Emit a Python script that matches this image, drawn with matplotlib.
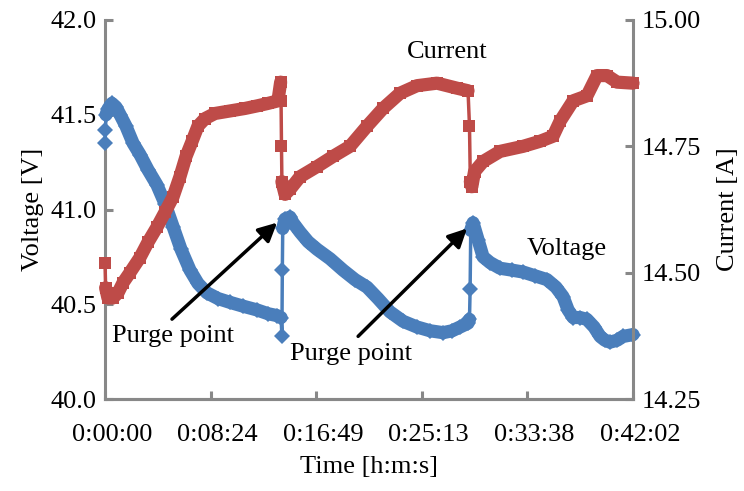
import matplotlib
matplotlib.use("Agg")
import matplotlib.pyplot as plt
import matplotlib.transforms as mtransforms
from matplotlib.ticker import FixedLocator, FuncFormatter

# ---- data (time in seconds) ----
volt_t = [0, 2, 5, 14, 33, 53, 72, 100, 134, 167, 205, 248, 287, 325, 363, 406, 444,
          487, 540, 597, 659, 726, 779, 822, 841, 845, 847, 849, 860, 884,
          898, 932, 970, 1013, 1075, 1137, 1194, 1252, 1304, 1361, 1424, 1490, 1553,
          1615, 1658, 1696, 1734, 1741, 1744, 1747, 1758,
          1782, 1806, 1839, 1887, 1944, 1997, 2054, 2111, 2154, 2188, 2212, 2236,
          2269, 2302, 2336, 2365, 2388, 2412, 2446, 2474, 2522]
volt_v = [41.35, 41.42, 41.50, 41.53, 41.56, 41.54, 41.50, 41.44, 41.35, 41.29, 41.21,
          41.13, 41.03, 40.91, 40.79, 40.68, 40.61, 40.56, 40.53, 40.51, 40.49, 40.47,
          40.45, 40.44, 40.43, 40.33, 40.68, 40.90, 40.95, 40.96,
          40.93, 40.88, 40.83, 40.79, 40.74, 40.68, 40.63, 40.59, 40.53, 40.46, 40.41,
          40.38, 40.36, 40.35, 40.36, 40.38, 40.40, 40.42, 40.58, 40.89, 40.93,
          40.84, 40.75, 40.72, 40.69, 40.68, 40.67, 40.65, 40.63, 40.59, 40.54, 40.47,
          40.43, 40.43, 40.42, 40.38, 40.33, 40.31, 40.30, 40.31, 40.33, 40.34]

curr_t = [0, 3, 14, 38, 62, 86, 119, 167, 205, 248, 287, 325, 358, 387, 416, 444, 478,
          525, 597, 669, 726, 779, 826, 839, 841, 843, 845, 860, 884,
          932, 1013, 1089, 1170, 1252, 1328, 1409, 1490, 1586, 1682, 1734,
          1741, 1745, 1752, 1765, 1806, 1887, 1997, 2078, 2140, 2174, 2236, 2302,
          2350, 2398, 2446, 2522]
curr_a = [14.52, 14.47, 14.45, 14.45, 14.46, 14.48, 14.50, 14.53, 14.56, 14.59, 14.62,
          14.65, 14.69, 14.73, 14.76, 14.79, 14.805, 14.815, 14.82, 14.825, 14.83,
          14.835, 14.84, 14.877, 14.84, 14.75, 14.68, 14.655, 14.665,
          14.69, 14.71, 14.73, 14.75, 14.79, 14.825, 14.855, 14.87, 14.875, 14.865,
          14.86, 14.79, 14.68, 14.67, 14.70, 14.72, 14.74, 14.75, 14.76, 14.77, 14.80,
          14.84, 14.85, 14.89, 14.89, 14.877, 14.875]

x_ticks = [0, 504.4, 1008.8, 1513.2, 2017.6, 2522]
x_labels = ["0:00:00", "0:08:24", "0:16:49", "0:25:13", "0:33:38", "0:42:02"]
v_ticks = [40.0, 40.5, 41.0, 41.5, 42.0]
i_ticks = [14.25, 14.50, 14.75, 15.00]

BLUE = "#4A7EBB"
RED = "#BE4B48"
GRAY = "#888888"
FS = 19

plt.rcParams['font.family'] = ['Liberation Serif', 'DejaVu Serif']

fig = plt.figure(figsize=(7.44, 4.91), dpi=100)
ax = fig.add_axes([105/744, 1-399/491, 528/744, 379/491])
ax2 = ax.twinx()


def draw_series(a, t, v, color, marker, jump):
    # thin line + markers through every sample
    a.plot(t, v, color=color, lw=2.5, marker=marker, markersize=8.5,
           markeredgewidth=0, clip_on=False, zorder=3)
    # dense sampling band: thick stroke over the continuous stretches
    seg_t, seg_v = [t[0]], [v[0]]
    for i in range(1, len(t)):
        if abs(v[i] - v[i - 1]) > jump and (t[i] - t[i - 1]) < 10:
            if len(seg_t) > 1:
                a.plot(seg_t, seg_v, color=color, lw=9.5, solid_capstyle='round',
                       solid_joinstyle='round', clip_on=False, zorder=3)
            seg_t, seg_v = [t[i]], [v[i]]
        else:
            seg_t.append(t[i])
            seg_v.append(v[i])
    if len(seg_t) > 1:
        a.plot(seg_t, seg_v, color=color, lw=9.5, solid_capstyle='round',
               solid_joinstyle='round', clip_on=False, zorder=3)


draw_series(ax, volt_t, volt_v, BLUE, 'D', 0.06)
draw_series(ax2, curr_t, curr_a, RED, 's', 0.03)

ax.set_xlim(0, 2522)
ax.set_ylim(40.0, 42.0)
ax2.set_ylim(14.25, 15.00)

ax.xaxis.set_major_locator(FixedLocator(x_ticks))
ax.set_xticklabels(x_labels)
ax.yaxis.set_major_locator(FixedLocator(v_ticks))
ax.yaxis.set_major_formatter(FuncFormatter(lambda v, p: f"{v:.1f}"))
ax2.yaxis.set_major_locator(FixedLocator(i_ticks))
ax2.yaxis.set_major_formatter(FuncFormatter(lambda v, p: f"{v:.2f}"))

for a in (ax, ax2):
    a.spines['top'].set_visible(False)
    for s in ('left', 'right', 'bottom'):
        a.spines[s].set_color(GRAY)
        a.spines[s].set_linewidth(2.2)
    a.tick_params(direction='in', length=6, width=2.2, color=GRAY,
                  labelsize=FS, labelcolor='black', pad=6)
ax.tick_params(axis='x', pad=18)
ax2.spines['left'].set_visible(False)
ax.spines['right'].set_visible(False)

offset = mtransforms.ScaledTranslation(7/100, 0, fig.dpi_scale_trans)
for lbl in ax.get_xticklabels():
    lbl.set_transform(lbl.get_transform() + offset)

ax.set_ylabel("Voltage [V]", fontsize=FS, labelpad=5)
ax2.set_ylabel("Current [A]", fontsize=FS, rotation=90, labelpad=12)
ax.set_xlabel("Time [h:m:s]", fontsize=FS, labelpad=7)

# annotations
ax.text(1634, 41.83, "Current", fontsize=FS, ha='center', va='center')
ax.text(2207, 40.79, "Voltage", fontsize=FS, ha='center', va='center')
ax.text(33, 40.33, "Purge point", fontsize=FS, ha='left', va='center')
ax.text(884, 40.24, "Purge point", fontsize=FS, ha='left', va='center')
arrow = dict(arrowstyle='-|>', lw=2.5, color='black', mutation_scale=28,
             shrinkA=0, shrinkB=0)
ax2.annotate("", xy=(822, 14.599), xytext=(320, 14.408), arrowprops=arrow, zorder=10)
ax2.annotate("", xy=(1729, 14.5875), xytext=(1209, 14.374), arrowprops=arrow, zorder=10)

fig.savefig("out.png", dpi=100)
